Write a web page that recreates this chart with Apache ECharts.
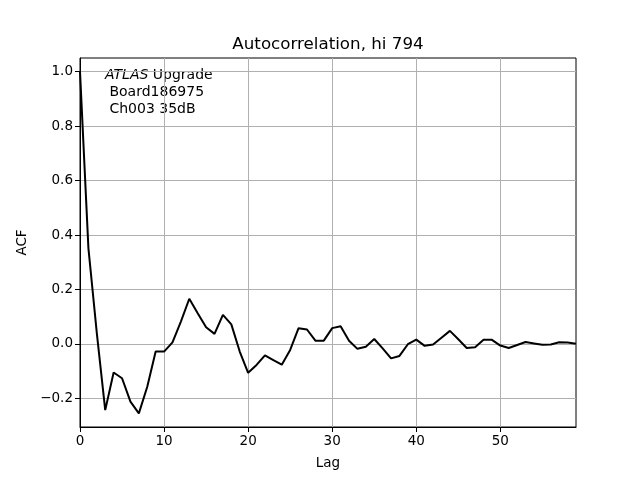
<!DOCTYPE html>
<html><head><meta charset="utf-8">
<script src="https://cdn.jsdelivr.net/npm/echarts@6/dist/echarts.min.js"></script>
<style>html,body{margin:0;padding:0;background:#fff}#c{width:640px;height:480px}</style>
</head><body><div id="c"></div>
<script>
const lags = Array.from({length: 60}, (_, i) => i);
const acf = [1.0, 0.352, 0.04, -0.243, -0.105, -0.126, -0.212, -0.255, -0.157, -0.028,
  -0.028, 0.006, 0.082, 0.166, 0.113, 0.061, 0.037, 0.107, 0.072, -0.028,
  -0.106, -0.077, -0.042, -0.059, -0.076, -0.022, 0.058, 0.053, 0.012, 0.012,
  0.058, 0.065, 0.012, -0.018, -0.010, 0.018, -0.016, -0.053, -0.044, -0.001,
  0.016, -0.007, -0.002, 0.023, 0.048, 0.017, -0.015, -0.012, 0.015, 0.015,
  -0.006, -0.015, -0.004, 0.007, 0.002, -0.003, -0.002, 0.006, 0.005, 0.001];
const xTicks = [0, 10, 20, 30, 40, 50];
const yTicks = [-0.2, 0, 0.2, 0.4, 0.6, 0.8, 1.0];
const titleText = 'Autocorrelation, hi 794';
const font = 'DejaVu Sans';

const chart = echarts.init(document.getElementById('c'), null, {renderer: 'canvas'});
const grid = {left: 80, right: 64, top: 58, bottom: 53};
chart.setOption({
  animation: false,
  grid: Object.assign({show: true, borderColor: '#000', borderWidth: 1, backgroundColor: '#fff'}, grid),
  xAxis: {type: 'value', min: 0, max: 59, name: 'Lag', nameLocation: 'middle', nameGap: 29,
    nameTextStyle: {fontFamily: font, fontSize: 13.5, color: '#000'},
    axisLine: {show: true, onZero: false, lineStyle: {color: '#000', width: 1}},
    axisTick: {show: true, inside: false, length: 5, customValues: xTicks, lineStyle: {color: '#000'}},
    axisLabel: {customValues: xTicks, fontFamily: font, fontSize: 13.5, color: '#000', margin: 7},
    splitLine: {show: true, customValues: xTicks, lineStyle: {color: '#b0b0b0', width: 1}}},
  yAxis: {type: 'value', min: -0.305, max: 1.05, name: 'ACF', nameLocation: 'middle', nameGap: 50,
    nameRotate: 90,
    nameTextStyle: {fontFamily: font, fontSize: 13.5, color: '#000'},
    axisLine: {show: true, onZero: false, lineStyle: {color: '#000', width: 1}},
    axisTick: {show: true, inside: false, length: 5, customValues: yTicks, lineStyle: {color: '#000'}},
    axisLabel: {customValues: yTicks, fontFamily: font, fontSize: 13.5, color: '#000', margin: 7,
      formatter: v => (v < 0 ? '\u2212' + Math.abs(v).toFixed(1) : v.toFixed(1))},
    splitLine: {show: true, customValues: yTicks, lineStyle: {color: '#b0b0b0', width: 1}}},
  series: [{type: 'line', data: lags.map((l, i) => [l, acf[i]]), showSymbol: false,
    lineStyle: {color: '#000', width: 2}, itemStyle: {color: '#000'}, clip: true}],
  graphic: [
    {type: 'text', x: 328, y: 36,
      style: {text: titleText, fontFamily: font, fontSize: 16.7, fill: '#000', align: 'center', verticalAlign: 'top'}},
    {type: 'text', left: 105, top: 67,
    style: {rich: {i: {fontFamily: font, fontSize: 14, fontStyle: 'italic', fill: '#000'},
                   n: {fontFamily: font, fontSize: 14, fill: '#000', lineHeight: 17}},
      text: '{i|ATLAS}{n| Upgrade}\n{n| Board186975}\n{n| Ch003 35dB}', fill: '#000',
      fontFamily: font, fontSize: 14, lineHeight: 17}}]
});
</script></body></html>
